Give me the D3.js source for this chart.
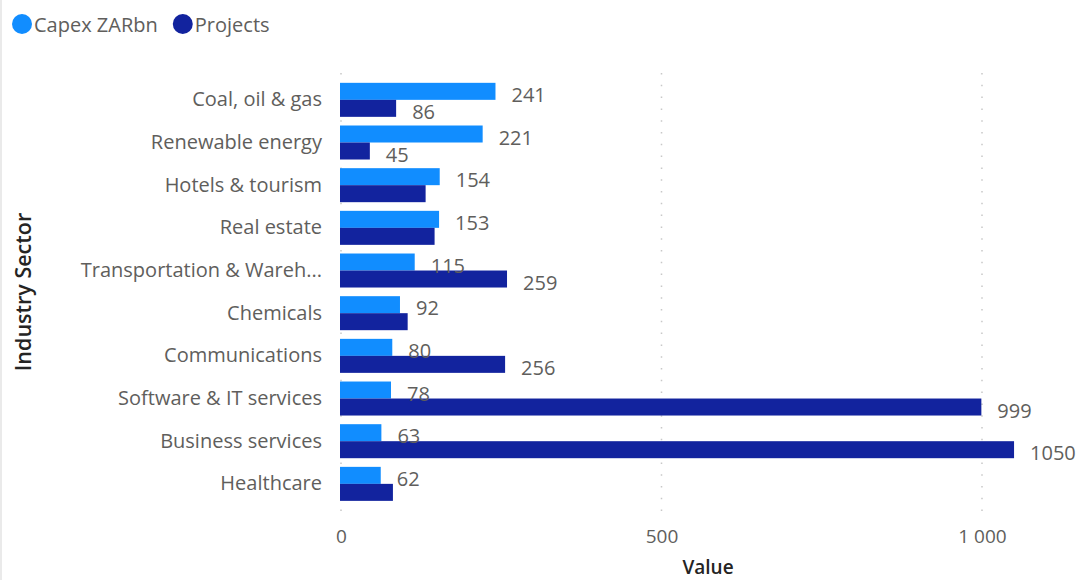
<!DOCTYPE html>
<html>
<head>
<meta charset="utf-8">
<script src="https://cdn.jsdelivr.net/npm/d3@7"></script>
<style>
  html, body { margin: 0; padding: 0; background: #fff; }
  svg { display: block; font-family: "Open Sans", "Noto Sans", sans-serif; }
</style>
</head>
<body>
<svg id="chart" width="1076" height="580"></svg>
<script>
// Industry sectors, top to bottom
const sectors = [
  "Coal, oil & gas",
  "Renewable energy",
  "Hotels & tourism",
  "Real estate",
  "Transportation & Warehousing",
  "Chemicals",
  "Communications",
  "Software & IT services",
  "Business services",
  "Healthcare"
];
const capex = [241, 221, 154, 153, 115, 92, 80, 78, 63, 62];
const projects = [86, 45, 132, 146, 259, 104, 256, 999, 1050, 81];

const seriesNames = ["Capex ZARbn", "Projects"];
const seriesColors = ["#118DFF", "#12239E"];
const xTicks = [0, 500, 1000];

const svg = d3.select("#chart");
const W = 1076, H = 580;

const textGray = "#605E5C";

// thin frame line on the left edge
svg.append("line")
  .attr("x1", 1).attr("x2", 1).attr("y1", 0).attr("y2", H)
  .attr("stroke", "#e3e3e3").attr("stroke-width", 1.5);

// scales
const x = d3.scaleLinear().domain([0, 1000]).range([341, 982]);
const y = d3.scaleBand().domain(sectors).range([78.5, 505.2]).paddingInner(0.203).paddingOuter(0.1015);
const ySub = d3.scaleBand().domain(seriesNames).range([0, y.bandwidth()]);

// dotted vertical gridlines
svg.append("g").selectAll("line").data(xTicks).join("line")
  .attr("x1", d => x(d)).attr("x2", d => x(d))
  .attr("y1", 73).attr("y2", 518)
  .attr("stroke", "#c8c8c8").attr("stroke-width", 1.5)
  .attr("stroke-dasharray", "1.5,10.3");

// x axis tick labels (space as thousands separator)
const xAxis = d3.axisBottom(x).tickValues(xTicks).tickSize(0).tickPadding(0)
  .tickFormat(d => d3.format(",")(d).replace(/,/g, " "));
const gx = svg.append("g").attr("transform", "translate(0,525)").call(xAxis);
gx.select(".domain").remove();
gx.selectAll("text")
  .attr("font-size", 19).attr("fill", textGray)
  .attr("font-family", "'Open Sans', sans-serif")
  .attr("dy", "0.95em");

// x axis title
svg.append("text")
  .attr("x", 708).attr("y", 574)
  .attr("text-anchor", "middle")
  .attr("font-size", 19).attr("font-weight", 600)
  .attr("fill", "#252423")
  .text("Value");

// y axis category labels, truncated with an ellipsis when too wide
const yAxis = d3.axisLeft(y).tickSize(0).tickPadding(0);
const gy = svg.append("g").attr("transform", "translate(322,0)").call(yAxis);
gy.select(".domain").remove();
gy.selectAll("text")
  .attr("font-size", 20).attr("fill", textGray)
  .attr("font-family", "'Open Sans', sans-serif")
  .attr("dy", "0.32em")
  .each(function(d) {
    const t = d3.select(this);
    const maxW = 242;
    if (this.getComputedTextLength() > maxW) {
      let s = d;
      while (s.length > 1) {
        s = s.slice(0, -1);
        t.text(s.trimEnd() + "...");
        if (this.getComputedTextLength() <= maxW) break;
      }
    }
  });

// y axis title
svg.append("text")
  .attr("transform", `translate(31,${292}) rotate(-90)`)
  .attr("text-anchor", "middle")
  .attr("font-size", 21.5).attr("font-weight", 600)
  .attr("fill", "#252423")
  .text("Industry Sector");

// bars
const rows = sectors.map((s, i) => ({ sector: s, values: [capex[i], projects[i]] }));
const groups = svg.append("g").selectAll("g").data(rows).join("g")
  .attr("transform", d => `translate(0,${y(d.sector)})`);

groups.selectAll("rect")
  .data(d => d.values.map((v, k) => ({ series: seriesNames[k], value: v, k })))
  .join("rect")
  .attr("x", x(0) - 1)
  .attr("y", d => ySub(d.series))
  .attr("width", d => x(d.value) - x(0) + 1)
  .attr("height", ySub.bandwidth())
  .attr("fill", d => seriesColors[d.k]);

// data labels; a Projects label that would collide with the Capex label is dropped
const labelGap = 16;
groups.each(function(row) {
  const g = d3.select(this);
  const boxes = [];
  row.values.forEach((v, k) => {
    const t = g.append("text")
      .attr("x", x(v) + labelGap)
      .attr("y", ySub(seriesNames[k]) + ySub.bandwidth() / 2 + 3.5)
      .attr("dy", "0.35em")
      .attr("font-size", 20)
      .attr("fill", textGray)
      .text(v);
    const x0 = x(v) + labelGap, x1 = x0 + t.node().getComputedTextLength();
    if (boxes.some(b => x0 < b[1] + 2 && x1 > b[0] - 2)) t.remove();
    else boxes.push([x0, x1]);
  });
});

// legend
const legend = svg.append("g");
let lx = 22;
seriesNames.forEach((name, i) => {
  legend.append("circle").attr("cx", lx).attr("cy", 24).attr("r", 10).attr("fill", seriesColors[i]);
  const t = legend.append("text")
    .attr("x", lx + 12).attr("y", 25).attr("dy", "0.35em")
    .attr("font-size", 20).attr("fill", textGray)
    .text(name);
  lx += 12 + t.node().getComputedTextLength() + 25;
});
</script>
</body>
</html>
